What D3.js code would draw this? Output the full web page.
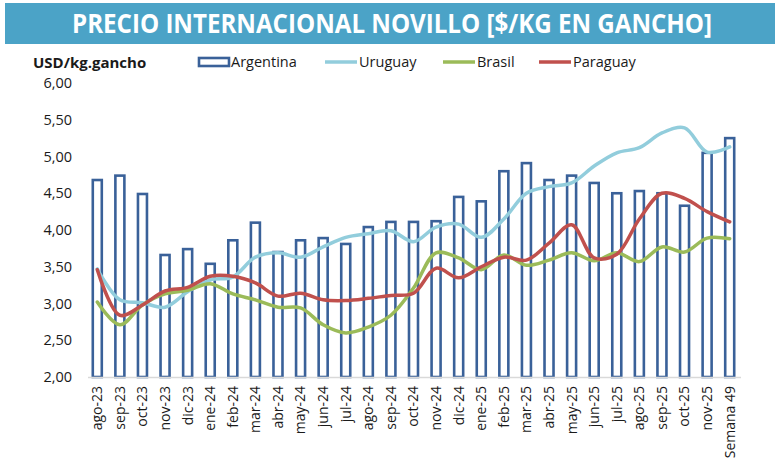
<!DOCTYPE html>
<html>
<head>
<meta charset="utf-8">
<script src="https://cdn.jsdelivr.net/npm/d3@7"></script>
<style>
  body { margin: 0; background: #fff; }
  text { font-family: "Open Sans", sans-serif; fill: #1a1a1a; }
</style>
</head>
<body>
<div id="chart"></div>
<script>
// meses (eje x)
var meses = ["ago-23", "sep-23", "oct-23", "nov-23", "dic-23", "ene-24", "feb-24", "mar-24", "abr-24", "may-24",
  "jun-24", "jul-24", "ago-24", "sep-24", "oct-24", "nov-24", "dic-24", "ene-25", "feb-25", "mar-25",
  "abr-25", "may-25", "jun-25", "jul-25", "ago-25", "sep-25", "oct-25", "nov-25", "Semana 49"]

var argentina = [4.68, 4.74, 4.49, 3.66, 3.74, 3.54, 3.86, 4.10, 3.70, 3.86,
  3.89, 3.81, 4.04, 4.11, 4.11, 4.12, 4.45, 4.39, 4.80, 4.91,
  4.68, 4.74, 4.64, 4.50, 4.53, 4.50, 4.33, 5.05, 5.25]

var uruguay = [3.47, 3.05, 3.01, 2.95, 3.16, 3.32, 3.36, 3.63, 3.69, 3.63,
  3.77, 3.90, 3.95, 3.99, 3.84, 4.04, 4.08, 3.90, 4.15, 4.50,
  4.59, 4.64, 4.87, 5.05, 5.12, 5.32, 5.39, 5.06, 5.13]

var brasil = [3.02, 2.71, 2.98, 3.13, 3.18, 3.27, 3.13, 3.05, 2.95, 2.94,
  2.71, 2.60, 2.68, 2.84, 3.21, 3.69, 3.62, 3.46, 3.66, 3.52,
  3.59, 3.69, 3.58, 3.69, 3.57, 3.77, 3.70, 3.89, 3.88]

var paraguay = [3.46, 2.84, 2.98, 3.17, 3.22, 3.37, 3.37, 3.28, 3.10, 3.14,
  3.05, 3.04, 3.07, 3.11, 3.14, 3.48, 3.35, 3.50, 3.63, 3.59,
  3.82, 4.07, 3.62, 3.67, 4.15, 4.50, 4.43, 4.25, 4.11]

var yTicks = [2, 2.5, 3, 3.5, 4, 4.5, 5, 5.5, 6]

var W = 780, H = 475

var svg = d3.select("#chart")
  .append("svg")
  .attr("width", W)
  .attr("height", H)

// titulo
svg.append("rect")
  .attr("x", 5).attr("y", 3)
  .attr("width", 770).attr("height", 41)
  .style("fill", "#4ba3c7")

svg.append("text")
  .attr("x", 392).attr("y", 33)
  .attr("text-anchor", "middle")
  .attr("textLength", 640)
  .attr("lengthAdjust", "spacingAndGlyphs")
  .style("font-size", "26px")
  .style("font-weight", "bold")
  .style("fill", "#fff")
  .text("PRECIO INTERNACIONAL NOVILLO [$/KG EN GANCHO]")

var x = d3.scaleBand()
  .domain(meses)
  .range([86, 741])

var y = d3.scaleLinear()
  .domain([2, 6])
  .range([377, 83])

// eje y (etiquetas solamente)
var yAxis = svg.append("g")
  .attr("transform", "translate(72,0)")
  .call(d3.axisLeft(y).tickValues(yTicks).tickSize(0).tickPadding(0)
    .tickFormat(d => d3.format(".2f")(d).replace(".", ",")))
yAxis.select(".domain").remove()
yAxis.selectAll("text").style("font-size", "14.5px").style("font-family", "Open Sans").style("fill", "#1a1a1a")

svg.append("text")
  .attr("x", 33).attr("y", 68)
  .style("font-size", "15px")
  .style("font-weight", "bold")
  .text("USD/kg.gancho")

// barras Argentina
svg.append("g")
  .selectAll("rect")
  .data(argentina)
  .join("rect")
  .attr("x", (d, i) => x(meses[i]) + x.bandwidth() / 2 - 4.5)
  .attr("y", d => y(d))
  .attr("width", 9)
  .attr("height", d => y(2) - y(d))
  .style("fill", "#fff")
  .style("stroke", "#3a6199")
  .style("stroke-width", 2.6)

// eje x
var xAxis = svg.append("g")
  .attr("transform", "translate(0," + y(2) + ")")
  .call(d3.axisBottom(x).tickSize(0).tickPadding(0))
xAxis.select(".domain").attr("d", "M88,0.5H741").style("stroke", "#d9d9d9").style("stroke-width", 1.5)
xAxis.selectAll("text")
  .attr("transform", "rotate(-90)")
  .attr("text-anchor", "end")
  .attr("x", -9)
  .attr("y", 0)
  .attr("dy", "0.35em")
  .style("font-size", "14px")
  .style("font-family", "Open Sans")
  .style("fill", "#1a1a1a")

// lineas
var series = [
  { nombre: "Uruguay", valores: uruguay, color: "#92cddc" },
  { nombre: "Brasil", valores: brasil, color: "#9bbb59" },
  { nombre: "Paraguay", valores: paraguay, color: "#c0504d" }
]

var line = d3.line()
  .x((d, i) => x(meses[i]) + x.bandwidth() / 2)
  .y(d => y(d))
  .curve(d3.curveCatmullRom.alpha(0.5))

series.forEach(s => {
  svg.append("path")
    .datum(s.valores)
    .attr("d", line)
    .style("fill", "none")
    .style("stroke", s.color)
    .style("stroke-width", 3.5)
    .style("stroke-linecap", "round")
})

// leyenda
var leg = svg.append("g")
leg.append("rect")
  .attr("x", 199).attr("y", 58)
  .attr("width", 30).attr("height", 8)
  .style("fill", "#fff")
  .style("stroke", "#3a6199")
  .style("stroke-width", 2.6)
leg.append("text").attr("x", 231).attr("y", 67).style("font-size", "14.5px").text("Argentina")

var legX = [325, 443, 539]
series.forEach((s, i) => {
  leg.append("line")
    .attr("x1", legX[i]).attr("x2", legX[i] + 32)
    .attr("y1", 62).attr("y2", 62)
    .style("stroke", s.color)
    .style("stroke-width", 3.5)
  leg.append("text")
    .attr("x", legX[i] + 34).attr("y", 67)
    .style("font-size", "14.5px")
    .text(s.nombre)
})
</script>
</body>
</html>
